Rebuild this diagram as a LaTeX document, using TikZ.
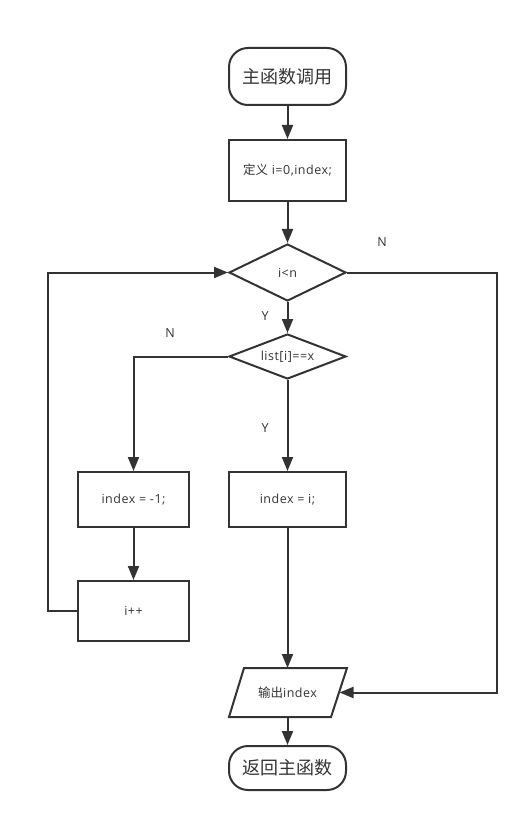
\documentclass[tikz,border=0pt]{standalone}
\usepackage{fontspec}
\setmainfont{Open Sans}[LetterSpace=4]
\newfontfamily\cjk{Noto Sans CJK SC}
\usetikzlibrary{shapes.geometric,arrows.meta}
\definecolor{ink}{HTML}{333333}
\begin{document}
\begin{tikzpicture}[x=1pt,y=-1pt,
  every node/.style={text=ink},
  base/.style={draw=ink,line width=2pt,inner sep=0pt,align=center},
  term/.style={base,rounded corners=19pt,minimum width=117pt,font=\fontsize{18}{20}\cjk},
  proc/.style={base,rectangle,font=\fontsize{12.5}{14}\selectfont},
  dec/.style={base,diamond,aspect=2.6,minimum width=117pt,font=\fontsize{12.5}{14}\selectfont},
  lbl/.style={font=\fontsize{12.5}{14}\selectfont,text=ink},
  conn/.style={draw=ink,line width=2pt,-{Triangle[length=14pt,width=11pt]}},
  plain/.style={draw=ink,line width=2pt}]
\useasboundingbox (0,0) rectangle (530,821);
\node[term,minimum height=57pt] (start) at (287.5,76.5) {主函数调用};
\node[proc,minimum width=117pt,minimum height=61pt] (def) at (287.5,170.5) {{\cjk 定义} i=0,index;};
\node[dec,minimum height=57pt] (d1) at (287.5,272.5) {i<n};
\node[dec,minimum height=45pt] (d2) at (287.5,356.5) {list[i]==x};
\node[proc,minimum width=111pt,minimum height=55pt] (neg) at (133.5,499.5) {index = -1;};
\node[proc,minimum width=117pt,minimum height=55pt] (seti) at (287.5,499.5) {index = i;};
\node[proc,minimum width=111pt,minimum height=60pt] (inc) at (133.5,611) {i++};
\draw[plain,line join=miter] (244,668) -- (347,668) -- (331,717) -- (229,717) -- cycle;
\node[font=\fontsize{12.5}{14}\selectfont] (out) at (287.5,692.5) {{\cjk 输出}index};
\coordinate (outE) at (339.5,692.5);
\coordinate (outN) at (287.5,668);
\coordinate (outS) at (287.5,717);
\node[term,minimum height=44pt] (end) at (287.5,768) {返回主函数};
\coordinate (loopA) at (48,611);
\coordinate (loopB) at (48,272.5);
\coordinate (nA) at (497,272.5);
\coordinate (nB) at (497,692.5);
\draw[conn] (start) -- (def);
\draw[conn] (def) -- (d1);
\draw[conn] (d1) -- (d2);
\draw[conn] (d2.west) -| (neg.north);
\draw[conn] (d2) -- (seti);
\draw[conn] (neg) -- (inc);
\draw[conn] (seti) -- (outN);
\draw[conn] (outS) -- (end);
\draw[conn] (inc.west) -- (loopA) -- (loopB) -- (d1.west);
\draw[conn] (d1.east) -- (nA) -- (nB) -- (outE);
\node[lbl] (n1) at (382,242) {N};
\node[lbl] (y1) at (265,316) {Y};
\node[lbl] (n2) at (170,333) {N};
\node[lbl] (y2) at (265,428) {Y};
\end{tikzpicture}
\end{document}
